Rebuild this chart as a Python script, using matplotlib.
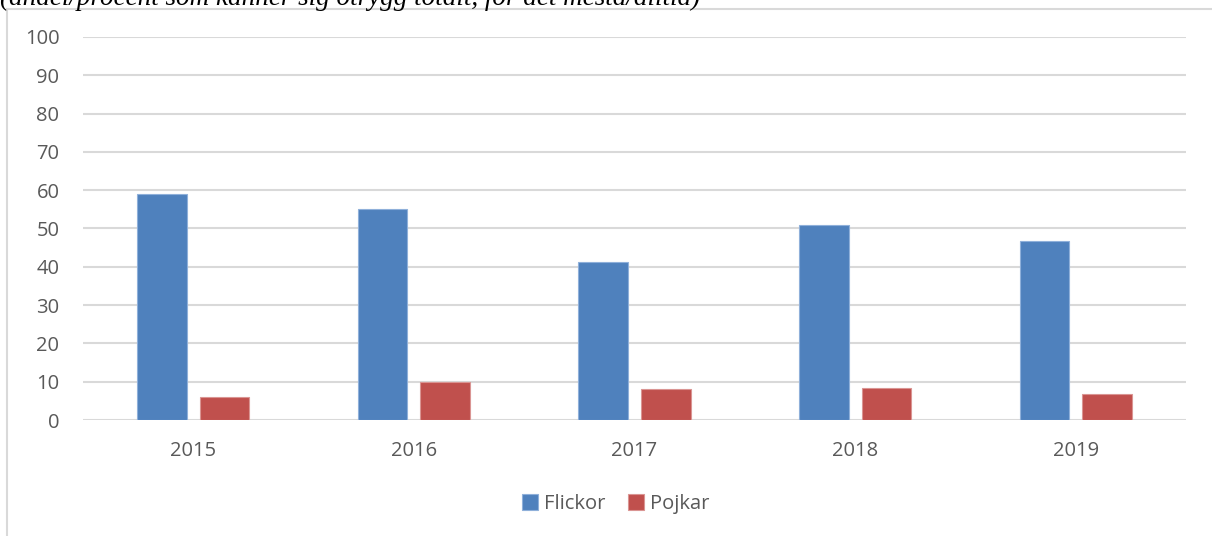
import numpy as np
import matplotlib
matplotlib.use('Agg')
import matplotlib.pyplot as plt
from matplotlib.patches import Rectangle

plt.rcParams['font.family'] = ['Open Sans', 'DejaVu Sans']

years = ['2015', '2016', '2017', '2018', '2019']
flickor = [59.0, 55.0, 41.3, 50.9, 46.8]
pojkar = [5.9, 10.0, 8.0, 8.4, 6.8]
yticks = [0, 10, 20, 30, 40, 50, 60, 70, 80, 90, 100]

fig = plt.figure(figsize=(12.12, 5.36), dpi=100)
ax = fig.add_axes([0.0685, 0.2164, 0.91, 0.7146])

x = np.arange(len(years))
w = 0.225
off = 0.142
ax.bar(x - off, flickor, w, color='#4F81BD', edgecolor='#8FB0DA', linewidth=0.8,
       label='Flickor', zorder=3)
ax.bar(x + off, pojkar, w, color='#C0504D', edgecolor='#DA9593', linewidth=0.8,
       label='Pojkar', zorder=3)

ax.set_xlim(-0.5, len(years) - 0.5)
ax.set_ylim(0, 100)
ax.set_yticks(yticks)
ax.set_xticks(x)
ax.set_xticklabels(years)
ax.grid(axis='y', color='#D9D9D9', linewidth=1.5, zorder=0)
for s in ax.spines.values():
    s.set_visible(False)
ax.tick_params(axis='both', length=0, labelsize=14.5, labelcolor='#595959')
ax.tick_params(axis='y', pad=17)
ax.tick_params(axis='x', pad=15)

leg = fig.legend(loc='center', bbox_to_anchor=(0.508, 0.06), ncol=2, frameon=False,
                 fontsize=14.5, handlelength=0.8, handleheight=0.8,
                 handletextpad=0.3, columnspacing=1.1)
for t in leg.get_texts():
    t.set_color('#595959')

# ramen runt diagrammet (går utanför höger- och nederkant)
fig.patches.append(Rectangle((7 / 1212, -0.1), 1.1, 1.1 - 9 / 536,
                             transform=fig.transFigure, fill=False,
                             edgecolor='#D9D9D9', linewidth=1.5))

# rubriken är avklippt upptill, som i originalet
fig.text(0.0, 1 - 5 / 536, '(andel/procent som känner sig otrygg totalt, för det mesta/alltid)',
         family='Liberation Serif', style='italic', fontsize=19.5, va='baseline', ha='left',
         color='black')

fig.savefig('out.png', dpi=100)
